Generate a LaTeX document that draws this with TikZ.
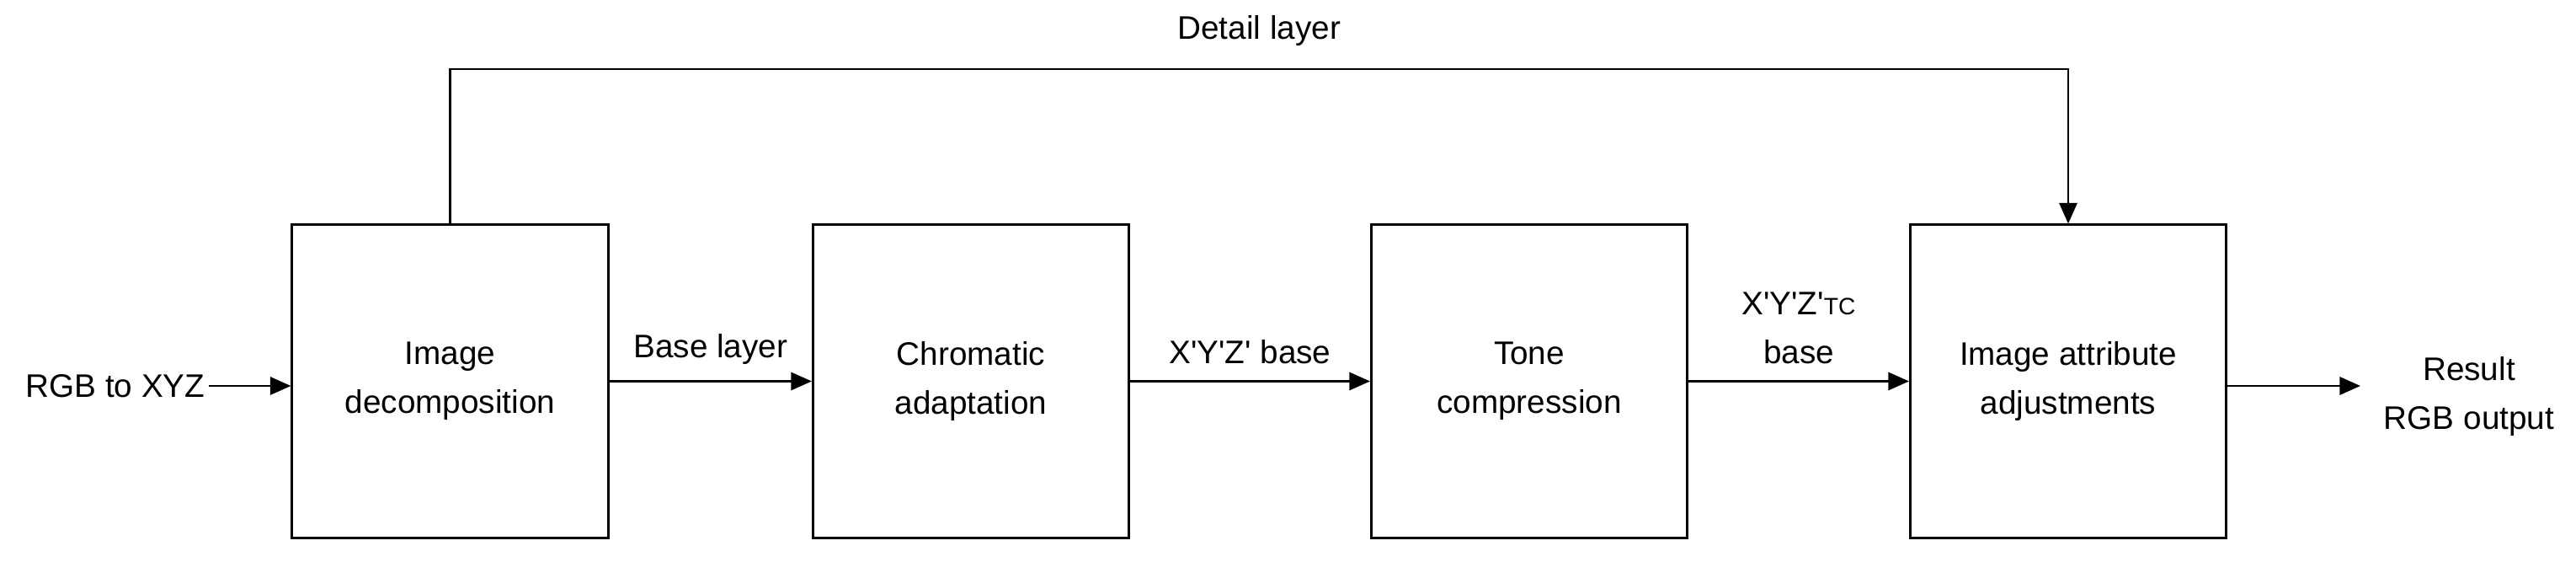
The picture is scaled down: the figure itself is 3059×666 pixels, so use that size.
\documentclass[tikz,border=0pt]{standalone}
\usepackage{fontspec}
\setmainfont{Liberation Sans}
\usetikzlibrary{positioning,arrows.meta}
\newcommand{\pq}{\textquotesingle}

\begin{document}
\begin{tikzpicture}[x=0.01cm,y=0.01cm,yscale=-1,
  font=\fontsize{11}{16.5}\selectfont,
  block/.style={draw,line width=0.8pt,minimum width=3.75cm,minimum height=3.71cm,align=center},
  flow/.style={line width=0.8pt,-{Triangle[length=7pt,width=6pt]}}]
\useasboundingbox (0,0) rectangle (3059,666);

% blocks
\node[block] (dec) at (534.5,452.5) {Image\\decomposition};
\node[block] (chr) at (1153,452.5) {Chromatic\\adaptation};
\node[block] (ton) at (1816,452.5) {Tone\\compression};
\node[block] (att) at (2456,452.5) {Image attribute\\adjustments};

% in / out
\node[inner sep=1pt] (in) at (137,458) {RGB to XYZ};
\node[align=center] (out) at (2932,470) {Result\\RGB output};
\coordinate (outend) at (2803,458);
\coordinate (up1) at (534.5,82);
\coordinate (up2) at (2456,82);

\draw[flow] (in) -- (dec.west |- in);
\draw[flow] (dec) -- node[above=2pt] {Base layer} (chr);
\draw[flow] (chr) -- node[above=2pt] {X\pq Y\pq Z\pq{} base} (ton);
\draw[flow] (ton) -- node[above=2pt,align=center] {X\pq Y\pq Z\pq{\fontsize{8}{9}\selectfont TC}\\base} (att);
\draw[flow] (att.east |- outend) -- (outend);

% detail branch
\draw[flow] (dec.north) -- (up1) -- node[above=4pt] {Detail layer} (up2) -- (att.north);
\end{tikzpicture}
\end{document}
